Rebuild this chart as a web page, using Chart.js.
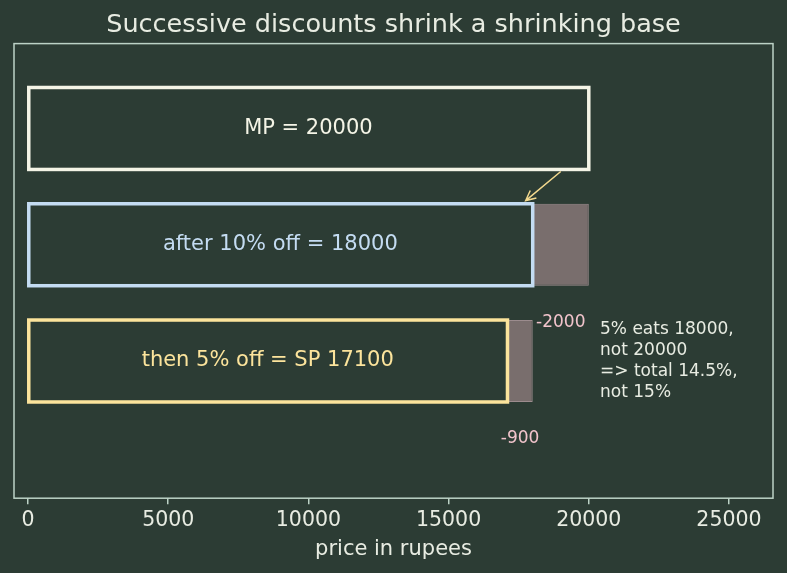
<!DOCTYPE html>
<html>
<head>
<meta charset="utf-8">
<script src="https://cdn.jsdelivr.net/npm/chart.js@4.4.0/dist/chart.umd.min.js"></script>
<style>
  html, body { margin: 0; padding: 0; background: #2c3c34; }
  #wrap { width: 787px; height: 573px; }
</style>
</head>
<body>
<div id="wrap"><canvas id="chart" width="787" height="573"></canvas></div>
<script>
// data
const stages = ['MP = 20000', 'after 10% off = 18000', 'then 5% off = SP 17100'];
const stageValues = [20000, 18000, 17100];
const stageColors = ['#f4f4e6', '#c4dcf2', '#fce49c'];
const discountFrom = [18000, 17100];
const discountTo = [20000, 18000];
const discountRows = [1, 2];
const discountLabels = ['-2000', '-900'];
const xTicks = [0, 5000, 10000, 15000, 20000, 25000];
const note = ['5% eats 18000,', 'not 20000', '=> total 14.5%,', 'not 15%'];
const notePos = [20400, 2];
const arrowFrom = [19000, 0.37];
const arrowTo = [17750, 0.62];

const bg = '#2c3c34';
const fg = '#e8ece2';
const frame = '#bcd2c6';
const FONT = "'DejaVu Sans', sans-serif";

const baseData = stageValues.map((v, i) => ({ x: [0, v], y: i }));
const discData = discountRows.map((r, i) => ({ x: [discountFrom[i], discountTo[i]], y: r }));

const overlay = {
  id: 'overlay',
  afterDatasetsDraw(chart) {
    const { ctx, chartArea: a, scales: { x, y } } = chart;
    ctx.save();
    // frame
    ctx.strokeStyle = frame;
    ctx.lineWidth = 1.5;
    ctx.strokeRect(a.left, a.top, a.right - a.left, a.bottom - a.top);
    // outlines of the stage bars, stroke centred on the edges
    const meta = chart.getDatasetMeta(1);
    meta.data.forEach((bar, i) => {
      const p = bar.getProps(['x', 'y', 'base', 'height'], true);
      ctx.strokeStyle = stageColors[i];
      ctx.lineWidth = 3.5;
      ctx.strokeRect(Math.min(p.base, p.x), p.y - p.height / 2, Math.abs(p.x - p.base), p.height);
    });
    // bar labels
    ctx.font = '21px ' + FONT;
    ctx.textAlign = 'center';
    ctx.textBaseline = 'middle';
    stages.forEach((s, i) => {
      ctx.fillStyle = stageColors[i];
      ctx.fillText(s, x.getPixelForValue(stageValues[i] / 2), y.getPixelForValue(i));
    });
    // discount labels
    ctx.font = '17px ' + FONT;
    ctx.fillStyle = '#f2c4cc';
    discountLabels.forEach((t, i) => {
      const mid = (discountFrom[i] + discountTo[i]) / 2;
      ctx.fillText(t, x.getPixelForValue(mid), y.getPixelForValue(discountRows[i] + 0.67));
    });
    // note
    ctx.font = '17px ' + FONT;
    ctx.fillStyle = fg;
    ctx.textAlign = 'left';
    const nx = x.getPixelForValue(notePos[0]);
    const ny = y.getPixelForValue(notePos[1]);
    const lh = 21;
    note.forEach((t, i) => {
      ctx.fillText(t, nx, ny + (i - (note.length - 1) / 2) * lh);
    });
    // arrow
    const x1 = x.getPixelForValue(arrowFrom[0]), y1 = y.getPixelForValue(arrowFrom[1]);
    const x2 = x.getPixelForValue(arrowTo[0]), y2 = y.getPixelForValue(arrowTo[1]);
    ctx.strokeStyle = '#f2d88e';
    ctx.lineWidth = 1.5;
    ctx.beginPath();
    ctx.moveTo(x1, y1);
    ctx.lineTo(x2, y2);
    const ang = Math.atan2(y2 - y1, x2 - x1);
    const hl = 11;
    ctx.moveTo(x2 - hl * Math.cos(ang - 0.45), y2 - hl * Math.sin(ang - 0.45));
    ctx.lineTo(x2, y2);
    ctx.lineTo(x2 - hl * Math.cos(ang + 0.45), y2 - hl * Math.sin(ang + 0.45));
    ctx.stroke();
    ctx.restore();
  }
};

new Chart(document.getElementById('chart'), {
  type: 'bar',
  data: {
    datasets: [
      {
        data: discData,
        backgroundColor: 'rgba(124,111,112,0.97)',
        borderColor: '#9c8c8e',
        borderWidth: 1,
        borderSkipped: false,
        grouped: false
      },
      {
        data: baseData,
        backgroundColor: 'rgba(0,0,0,0)',
        borderWidth: 0,
        grouped: false
      }
    ]
  },
  options: {
    indexAxis: 'y',
    responsive: false,
    animation: false,
    categoryPercentage: 1,
    barPercentage: 0.705,
    layout: { padding: { left: 14, right: 14, top: 0, bottom: 11 } },
    plugins: {
      legend: { display: false },
      tooltip: { enabled: false },
      title: {
        display: true,
        text: 'Successive discounts shrink a shrinking base',
        color: fg,
        font: { family: FONT, size: 25.5, weight: 'normal' },
        padding: { top: 10, bottom: 3 }
      }
    },
    scales: {
      y: {
        type: 'linear',
        min: -0.73,
        max: 3.18,
        reverse: true,
        offset: false,
        display: false,
        afterBuildTicks(scale) {
          scale.ticks = stages.map((s, i) => ({ value: i }));
        }
      },
      x: {
        type: 'linear',
        min: -500,
        max: 26570,
        afterBuildTicks(scale) {
          scale.ticks = xTicks.map(v => ({ value: v }));
        },
        grid: { drawOnChartArea: false, drawTicks: true, tickLength: 6, color: frame, lineWidth: 1.5 },
        border: { display: false },
        ticks: {
          color: fg,
          font: { family: FONT, size: 20.5 },
          padding: 4,
          maxRotation: 0,
          callback: v => String(v)
        },
        title: { display: true, text: 'price in rupees', color: fg, font: { family: FONT, size: 21 }, padding: { top: 0, bottom: 0 } }
      }
    }
  },
  plugins: [overlay, {
    id: 'bg',
    beforeDraw(chart) {
      const c = chart.ctx;
      c.save();
      c.fillStyle = bg;
      c.fillRect(0, 0, chart.width, chart.height);
      c.restore();
    }
  }]
});
</script>
</body>
</html>
